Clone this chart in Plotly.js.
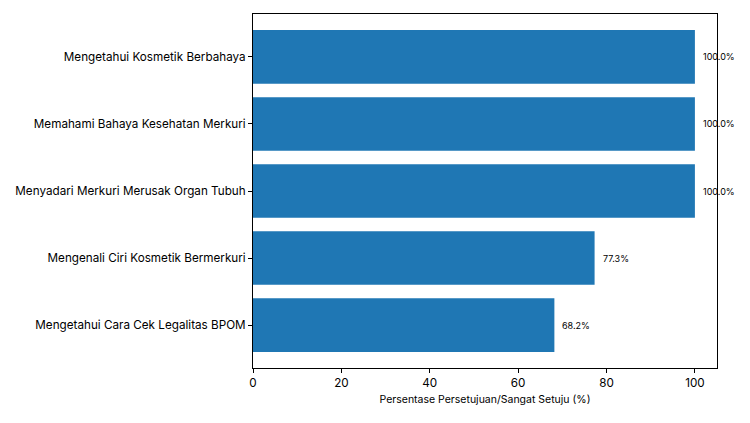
<!DOCTYPE html>
<html>
<head>
<meta charset="utf-8">
<script src="https://cdn.plot.ly/plotly-3.0.1.min.js"></script>
<style>html,body{margin:0;padding:0;background:#fff;}#chart{width:750px;height:423px;}</style>
</head>
<body>
<div id="chart"></div>
<script>
const categories = [
  "Mengetahui Kosmetik Berbahaya",
  "Memahami Bahaya Kesehatan Merkuri",
  "Menyadari Merkuri Merusak Organ Tubuh",
  "Mengenali Ciri Kosmetik Bermerkuri",
  "Mengetahui Cara Cek Legalitas BPOM"
];
const values = [100.0, 100.0, 100.0, 77.3, 68.2];
const labels = values.map(v => v.toFixed(1) + "%");
const xTicks = [0, 20, 40, 60, 80, 100];

const font = "Inter, 'Open Sans', sans-serif";

const trace = {
  type: "bar",
  orientation: "h",
  x: values,
  y: categories,
  width: 0.8,
  marker: {color: "#1f77b4", line: {width: 0}},
  hoverinfo: "none"
};

const annotations = values.map((v, i) => ({
  x: v, y: categories[i], xref: "x", yref: "y",
  text: labels[i], showarrow: false, xanchor: "left", yanchor: "middle",
  xshift: 6, font: {family: font, size: 9, color: "#000"}
}));

const layout = {
  width: 750, height: 423,
  margin: {l: 253, r: 33, t: 14, b: 55},
  paper_bgcolor: "#fff", plot_bgcolor: "#fff",
  showlegend: false,
  font: {family: font, color: "#000"},
  xaxis: {
    range: [0, 105], tickvals: xTicks, ticktext: xTicks.map(String),
    showgrid: false, zeroline: false,
    showline: true, linecolor: "#000", linewidth: 1, mirror: true,
    ticks: "outside", ticklen: 4, tickcolor: "#000",
    tickfont: {family: font, size: 11.7, color: "#000"},
    title: {text: "Persentase Persetujuan/Sangat Setuju (%)", font: {family: font, size: 10.5, color: "#000"}, standoff: 6}
  },
  yaxis: {
    type: "category", categoryorder: "array", categoryarray: categories,
    range: [4.64, -0.64],
    showgrid: false, zeroline: false,
    showline: true, linecolor: "#000", linewidth: 1, mirror: true,
    ticks: "outside", ticklen: 4, tickcolor: "#000",
    tickfont: {family: font, size: 11.7, color: "#000"}
  },
  annotations: annotations
};

Plotly.newPlot("chart", [trace], layout, {displayModeBar: false, staticPlot: true});
</script>
</body>
</html>
